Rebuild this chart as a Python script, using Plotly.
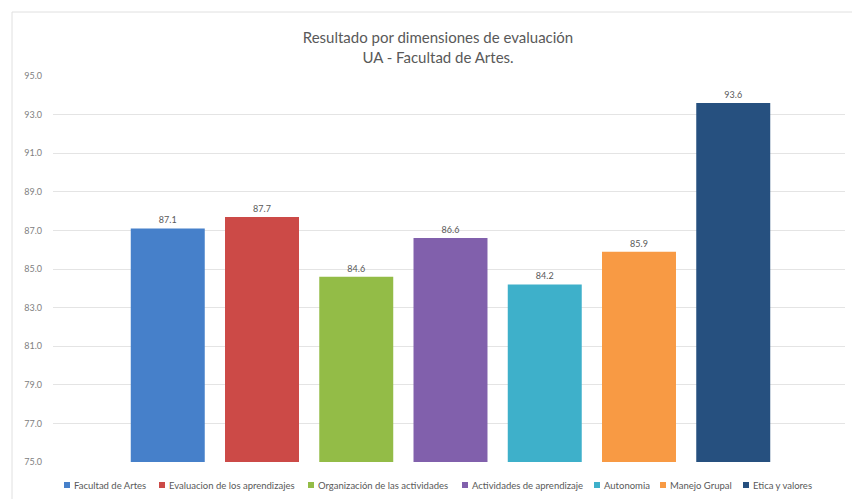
import plotly.graph_objects as go

series_names = ["Facultad de Artes", "Evaluacion de los aprendizajes", "Organización de las actividades",
                "Actividades de aprendizaje", "Autonomia", "Manejo Grupal", "Etica y valores"]
values = [87.1, 87.7, 84.6, 86.6, 84.2, 85.9, 93.6]
colors = ["#4680CA", "#CC4A47", "#93BC47", "#8160AC", "#3EB0CA", "#F89A44", "#26507F"]
category = [""]
y_ticks = [75, 77, 79, 81, 83, 85, 87, 89, 91, 93, 95]

# layout constants (pixels)
W, H = 852, 499
L, R, T, B = 53, 7, 76, 37
PW, PH = W - L - R, H - T - B
legend_px = [67, 162, 311, 465, 597, 663, 746]   # legend marker centres
legend_py = 485
x_shift = 1.5 / PW


def px(x):
    return (x - L) / PW


def py(y):
    return (H - B - y) / PH


fig = go.Figure()
for name, v, c in zip(series_names, values, colors):
    fig.add_trace(go.Bar(
        x=category, y=[v], name=name,
        marker=dict(color=c, line=dict(width=0)),
        text=[f"{v:.1f}"], textposition="outside",
        textfont=dict(size=9, color="#595959", family="Lato, sans-serif"),
        cliponaxis=False, showlegend=False,
    ))

shapes = [dict(type="rect", xref="paper", yref="paper",
               x0=px(12), x1=px(W + 5), y0=py(H + 5), y1=py(12),
               line=dict(color="#E0E0E0", width=1), fillcolor="rgba(0,0,0,0)", layer="below")]
annotations = []
for name, c, lx in zip(series_names, colors, legend_px):
    shapes.append(dict(type="rect", xref="paper", yref="paper",
                       x0=px(lx - 3), x1=px(lx + 3), y0=py(legend_py + 3), y1=py(legend_py - 3),
                       line=dict(width=0), fillcolor=c))
    annotations.append(dict(text=name, xref="paper", yref="paper", x=px(lx + 5), y=py(legend_py),
                            xanchor="left", yanchor="middle", showarrow=False,
                            font=dict(size=9.5, color="#595959", family="Lato, sans-serif")))

fig.update_layout(
    width=W, height=H,
    margin=dict(l=L, r=R, t=T, b=B, autoexpand=False),
    paper_bgcolor="white", plot_bgcolor="white",
    barmode="group", bargap=0.167, bargroupgap=0.215,
    font=dict(family="Lato, sans-serif", color="#595959"),
    title=dict(
        text="Resultado por dimensiones de evaluación<br>UA - Facultad de Artes.",
        x=438 / W, xanchor="center", y=1 - 43 / H, yanchor="middle",
        font=dict(size=15, color="#595959", family="Lato, sans-serif"),
    ),
    showlegend=False,
    xaxis=dict(showticklabels=False, showgrid=False, zeroline=False, showline=False, automargin=False,
               range=[-0.5 - x_shift, 0.5 - x_shift]),
    yaxis=dict(range=[75, 95], tickvals=y_ticks, tickformat=".1f",
               showgrid=True, gridcolor="#E4E4E4", gridwidth=1,
               zeroline=False, showline=False, automargin=False,
               tickfont=dict(size=9, color="#808080"), ticklabelstandoff=10),
    shapes=shapes,
    annotations=annotations,
)

fig.write_html("out.html", config={"displayModeBar": False},
               post_script="document.body.style.margin='0';")
